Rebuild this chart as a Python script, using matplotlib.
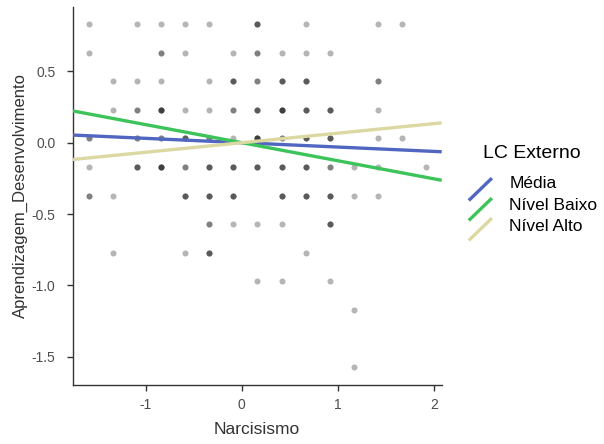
import numpy as np
import matplotlib
matplotlib.use('Agg')
import matplotlib.pyplot as plt
from matplotlib.lines import Line2D

plt.rcParams['font.family'] = ['Liberation Sans', 'DejaVu Sans']
plt.rcParams['axes.unicode_minus'] = False

# pontos (Narcisismo, Aprendizagem_Desenvolvimento, quantidade sobreposta)
narc = [-1.587, -1.087, -0.837, -0.587, -0.337, 0.163, 0.663, 1.413, 1.663,
        -1.587, -0.837, -0.587, -0.087, 0.163, 0.413, 0.663, 0.913,
        -1.337, -1.087, -0.837, -0.337, -0.087, 0.163, 0.413, 0.663, 1.413,
        -1.337, -1.087, -0.837, -0.587, -0.337, -0.087, 0.163, 0.413, 0.663, 0.913, 1.413,
        -1.587, -1.087, -0.837, -0.587, -0.337, -0.087, 0.163, 0.413, 0.663, 0.913, 1.413, 1.663,
        -1.587, -1.087, -0.837, -0.587, -0.337, -0.087, 0.163, 0.413, 0.663, 0.913, 1.163, 1.413, 1.913,
        -1.587, -1.337, -0.587, -0.337, -0.087, 0.413, 0.663, 0.913, 1.163, 1.413,
        -0.337, -0.087, 0.163, 0.413, 0.913,
        -1.337, -0.587, -0.337, 0.663,
        0.163, 0.413, 0.913,
        1.163,
        1.163]
aprend = [0.83] * 9 + [0.63] * 8 + [0.43] * 9 + [0.23] * 11 + [0.03] * 12 + \
         [-0.17] * 13 + [-0.37] * 10 + [-0.57] * 5 + [-0.77] * 4 + [-0.97] * 3 + \
         [-1.17] + [-1.57]
quant = [1, 1, 1, 1, 1, 3, 1, 1, 1,
         1, 2, 1, 1, 2, 1, 1, 1,
         1, 1, 1, 1, 3, 2, 3, 3, 2,
         1, 2, 4, 1, 1, 2, 3, 4, 3, 3, 1,
         2, 2, 2, 3, 2, 1, 4, 2, 3, 3, 1, 1,
         1, 3, 4, 2, 3, 3, 3, 3, 3, 2, 1, 1, 1,
         2, 1, 3, 3, 3, 3, 3, 3, 1, 1,
         2, 1, 1, 1, 3,
         1, 1, 3, 1,
         1, 1, 1,
         1,
         1]

# linhas simples (moderador LC Externo)
niveis = ['Média', 'Nível Baixo', 'Nível Alto']
inclinacao = [-0.0305, -0.1266, 0.0669]
intercepto = [0.0, 0.0, 0.0]
cores = ['#5066C0', '#3CC35A', '#DCD8A2']

x = np.repeat(narc, quant)
y = np.repeat(aprend, quant)

W, H = 604, 444
fig = plt.figure(figsize=(W / 100, H / 100), dpi=100)
ax = fig.add_axes([72.7 / W, 1 - 385 / H, (441.7 - 72.7) / W, (385 - 7) / H])

xlim = (-1.76, 2.08)
ax.scatter(x, y, s=19, color='black', alpha=0.29, linewidths=0, zorder=2)
xs = np.array(xlim)
for b, a, c in zip(inclinacao, intercepto, cores):
    ax.plot(xs, a + b * xs, color=c, lw=2.4, solid_capstyle='butt', zorder=3)

ax.set_xlim(*xlim)
ax.set_ylim(-1.698, 0.951)
ax.set_xticks([-1, 0, 1, 2])
ax.set_yticks([0.5, 0.0, -0.5, -1.0, -1.5])
ax.set_yticklabels(['0.5', '0.0', '-0.5', '-1.0', '-1.5'])
for s in ['top', 'right']:
    ax.spines[s].set_visible(False)
for s in ['left', 'bottom']:
    ax.spines[s].set_color('#333333')
    ax.spines[s].set_linewidth(1.0)
ax.tick_params(colors='#333333', labelcolor='#4D4D4D', labelsize=10, length=4, width=1)
ax.tick_params(axis='x', pad=5.5)
ax.tick_params(axis='y', pad=8.5)
ax.set_xlabel('Narcisismo', fontsize=12.5, color='#333333', labelpad=7)
ax.set_ylabel('Aprendizagem_Desenvolvimento', fontsize=12, color='#333333')
ax.yaxis.set_label_coords(-0.121, 0.5)

# legenda
fig.text(482.7 / W, 1 - 158.3 / H, 'LC Externo', fontsize=14, color='black', va='baseline')
base = [188.3, 209.8, 231.0]
for i, (nome, c) in enumerate(zip(niveis, cores)):
    y0 = 199.3 + 20 * i
    fig.add_artist(Line2D([470 / W, 490.7 / W], [1 - y0 / H, 1 - (y0 - 20) / H],
                          transform=fig.transFigure, color=c, lw=2.4))
    fig.text(509.3 / W, 1 - base[i] / H, nome, fontsize=12.5, color='black', va='baseline')

fig.savefig('out.png', dpi=100)
